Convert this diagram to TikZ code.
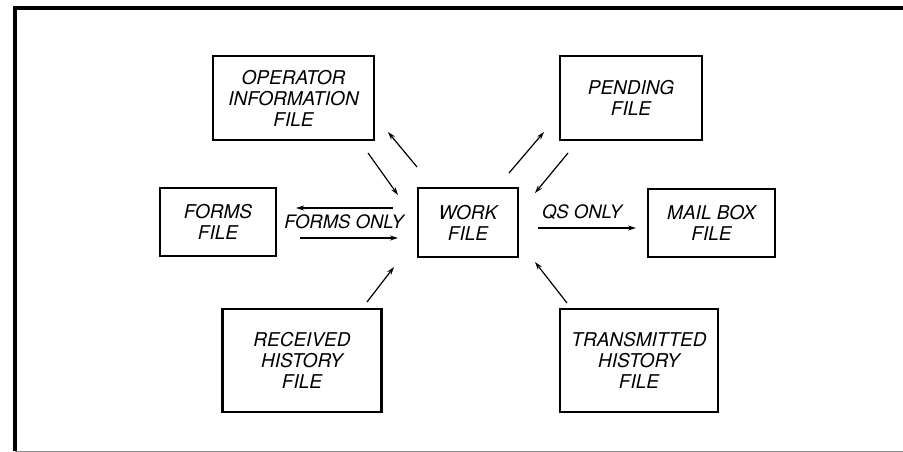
\documentclass[tikz,border=0pt]{standalone}
\usepackage{fontspec}
\setmainfont{TeX Gyre Heros}
\usetikzlibrary{arrows.meta}
\tikzset{
  filebox/.style={draw, line width=2.2pt, inner sep=0pt, align=center,
    font=\fontsize{19}{21}\selectfont\itshape},
  lbl/.style={inner sep=0pt, font=\fontsize{18.5}{21}\selectfont\itshape},
  flow/.style={line width=1.2pt, -{Stealth[length=8pt,width=5pt]}},
  frame/.style={line width=3.5pt},
}
\begin{document}
\begin{tikzpicture}[x=1pt,y=-1pt]
\useasboundingbox (0,0) rectangle (903,452);
% frame
\draw[frame] (903,8) -- (15,8) -- (15,451);
\draw[line width=0.8pt, black!45] (15,451) -- (903,451);
% boxes
\node[filebox, minimum width=161pt, minimum height=84pt] (op) at (293.5,98) {OPERATOR\\INFORMATION\\FILE};
\node[filebox, minimum width=142pt, minimum height=84pt] (pend) at (631,98) {PENDING\\FILE};
\node[filebox, minimum width=116pt, minimum height=68pt] (forms) at (218,222) {FORMS\\FILE};
\node[filebox, minimum width=100pt, minimum height=69pt] (work) at (468,222.5) {WORK\\FILE};
\node[filebox, minimum width=127pt, minimum height=68pt] (mail) at (711.5,223) {MAIL BOX\\FILE};
\node[filebox, minimum width=159pt, minimum height=103pt] (recv) at (302,360.5) {RECEIVED\\HISTORY\\FILE};
\node[filebox, minimum width=158pt, minimum height=103pt] (trans) at (639,360.5) {TRANSMITTED\\HISTORY\\FILE};
% arrow end points
\coordinate (a1s) at (417,167); \coordinate (a1e) at (388,132);
\coordinate (a2s) at (368,153); \coordinate (a2e) at (398,195);
\coordinate (a3s) at (509,173); \coordinate (a3e) at (544,132);
\coordinate (a4s) at (568,153); \coordinate (a4e) at (535,193);
\coordinate (a5s) at (393,208); \coordinate (a5e) at (296,208);
\coordinate (a6s) at (300,238); \coordinate (a6e) at (398,238);
\coordinate (a7s) at (538,228); \coordinate (a7e) at (636,228);
\coordinate (a8s) at (367,302); \coordinate (a8e) at (394,267);
\coordinate (a9s) at (567,303); \coordinate (a9e) at (535,262);
\draw[flow] (a1s) -- (a1e);
\draw[flow] (a2s) -- (a2e);
\draw[flow] (a3s) -- (a3e);
\draw[flow] (a4s) -- (a4e);
\draw[flow] (a5s) -- (a5e);
\draw[flow] (a6s) -- (a6e);
\draw[flow] (a7s) -- (a7e);
\draw[flow] (a8s) -- (a8e);
\draw[flow] (a9s) -- (a9e);
% labels
\node[lbl] (fo) at (344,222) {FORMS ONLY};
\node[lbl] (qs) at (582,212.5) {QS ONLY};
\end{tikzpicture}
\end{document}
